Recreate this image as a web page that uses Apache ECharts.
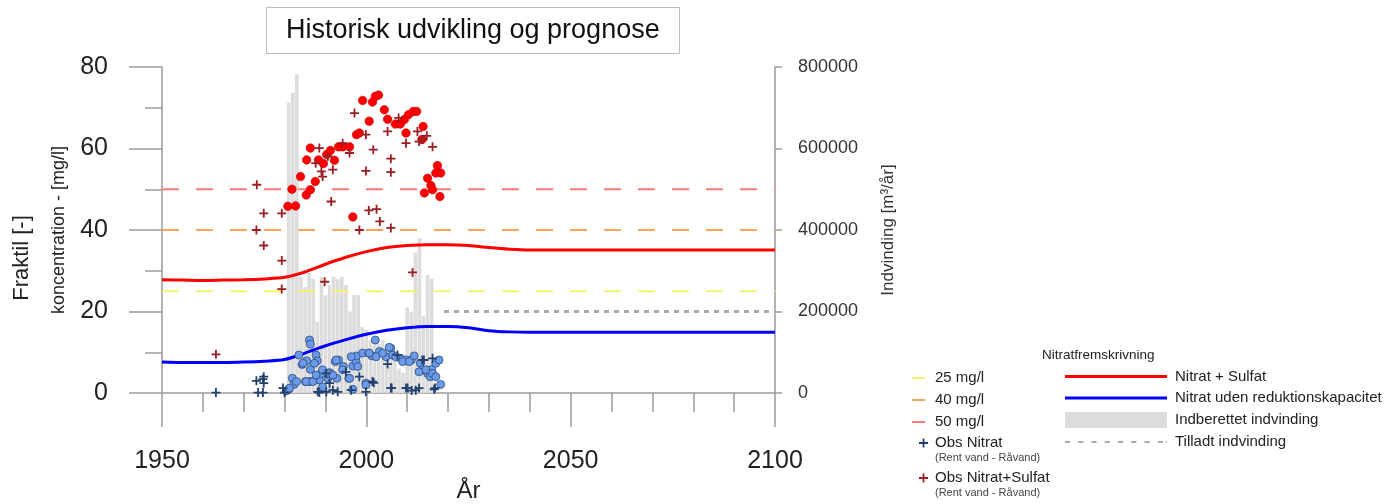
<!DOCTYPE html>
<html>
<head>
<meta charset="utf-8">
<title>Historisk udvikling og prognose</title>
<script src="https://cdn.jsdelivr.net/npm/echarts@6/dist/echarts.min.js"></script>
<style>
  html, body { margin: 0; padding: 0; background: #fff; }
  #chart { width: 1393px; height: 504px; }
</style>
</head>
<body>
<div id="chart"></div>
<script>
// Indberettet indvinding (m3/år)
const barYears = [1981, 1982, 1983, 1984, 1985, 1986, 1987, 1988, 1989, 1990, 1991, 1992,
  1993, 1994, 1995, 1996, 1997, 1998, 1999, 2000, 2001, 2002, 2003, 2004, 2005, 2006,
  2007, 2008, 2009, 2010, 2011, 2012, 2013, 2014, 2015, 2016];
const indvinding = [712000, 737000, 782000, 285000, 260000, 295000, 280000, 175000, 285000,
  240000, 265000, 285000, 280000, 285000, 265000, 200000, 240000, 240000, 162000, 155000,
  130000, 125000, 120000, 130000, 110000, 95000, 80000, 60000, 50000, 210000, 200000,
  345000, 380000, 190000, 290000, 280000];

// Tilladt indvinding
const tilladtYears = [2019, 2100];
const tilladt = [200000, 200000];

// Nitratfremskrivning (mg/l)
const projYears = [1950, 1955, 1960, 1965, 1970, 1975, 1980, 1985, 1990, 1995, 2000, 2005,
  2010, 2015, 2020, 2025, 2030, 2035, 2040, 2050, 2060, 2070, 2080, 2090, 2100];
const nitratSulfat = [27.8, 27.7, 27.6, 27.7, 27.8, 28.0, 28.4, 29.7, 31.6, 33.3, 34.7, 35.7,
  36.2, 36.4, 36.4, 36.2, 35.7, 35.3, 35.1, 35.1, 35.1, 35.1, 35.1, 35.1, 35.1];
const nitratUden = [7.6, 7.5, 7.5, 7.5, 7.6, 7.8, 8.2, 9.8, 11.6, 13.1, 14.4, 15.4,
  16.0, 16.3, 16.3, 16.0, 15.3, 15.0, 14.9, 14.9, 14.9, 14.9, 14.9, 14.9, 14.9];

// Grænseværdier
const limitYears = [1950, 2100];
const limits = [25, 40, 50];
const limitNames = ['25 mg/l', '40 mg/l', '50 mg/l'];
const limitColors = ['#f6f36a', '#ffa25a', '#ff7a7a'];

// Observationer [år, mg/l]
const obsSulfatDots = [[1980.8, 45.8], [1982.7, 45.9], [1981.8, 50.0], [1983.9, 53.1], [1985.3, 48.6],
  [1986.3, 49.9], [1985.4, 57.2], [1986.3, 60.1], [1987.5, 51.9], [1988.3, 57.2], [1989.5, 56.3],
  [1990.3, 58.5], [1991.2, 59.5], [1992.2, 57.1], [1993.2, 60.4], [1994.2, 60.4], [1995.9, 60.4],
  [1997.6, 63.4], [1998.3, 63.8], [1996.7, 43.2], [2000.7, 66.7], [1999.1, 71.8], [2001.5, 71.4],
  [2002.2, 72.8], [2003.0, 73.1], [2004.4, 69.5], [2005.2, 67.2], [2007.1, 66.0], [2008.3, 66.0],
  [2009.3, 67.1], [2010.3, 68.3], [2011.5, 69.1], [2012.3, 69.1], [2009.7, 63.8], [2013.9, 65.4],
  [2013.6, 62.2], [2015.0, 52.7], [2015.8, 50.9], [2016.2, 49.9], [2014.2, 49.1], [2017.0, 54.0],
  [2017.4, 55.8], [2018.2, 54.0], [2018.0, 48.2]];
const obsSulfatPlus = [[1973.2, 51.1], [1973.1, 40.0], [1974.9, 44.1], [1974.9, 36.2], [1979.3, 44.1],
  [1979.3, 32.5], [1979.3, 25.5], [1963.2, 9.5], [1989.8, 27.3], [1988.5, 60.1], [1987.6, 56.4],
  [1989.0, 54.4], [1989.3, 53.1], [1990.6, 58.1], [1991.8, 54.8], [1991.4, 47.0], [1994.2, 61.3],
  [1995.9, 58.9], [1997.1, 68.7], [1998.3, 40.0], [1999.9, 63.4], [1999.9, 54.5], [2000.6, 44.8],
  [2002.5, 45.1], [2001.7, 59.7], [2003.3, 42.1], [2005.2, 64.2], [2006.0, 57.5], [2006.0, 54.2],
  [2006.0, 40.5], [2007.9, 67.5], [2009.7, 61.3], [2012.5, 64.2], [2012.9, 61.7], [2011.3, 29.6],
  [2013.7, 62.2], [2014.8, 63.1], [2016.2, 60.4]];
const obsNitratDots = [[1986.1, 13.0], [1986.3, 12.0], [1983.5, 9.3], [1984.3, 7.0], [1985.4, 7.9],
  [1987.7, 9.3], [1988.0, 7.9], [1986.3, 5.8], [1981.9, 3.6], [1982.3, 2.1], [1981.0, 0.9],
  [1980.4, 0.5], [1985.1, 2.8], [1986.1, 2.8], [1987.1, 3.0], [1988.5, 3.2], [1989.0, 4.8],
  [1989.3, 1.5], [1991.0, 5.0], [1990.6, 3.6], [1992.4, 7.7], [1993.2, 8.1], [1992.8, 3.6],
  [1994.4, 6.5], [1995.7, 3.6], [1996.7, 0.9], [1996.7, 6.6], [1997.5, 7.7], [1997.6, 9.1],
  [1999.1, 9.8], [1999.9, 2.4], [2000.6, 9.8], [2001.4, 9.1], [2002.2, 13.0], [2003.2, 10.2],
  [2004.8, 8.9], [2006.0, 11.0], [2006.4, 9.3], [2008.4, 8.5], [2009.7, 8.1], [2011.0, 8.1],
  [2011.7, 9.1], [2013.2, 7.3], [2013.7, 5.7], [2015.0, 4.8], [2016.0, 5.8], [2017.0, 7.3],
  [2017.8, 8.1], [2018.2, 2.1], [2015.6, 4.0], [1984.5, 7.3], [1987.3, 7.3], [1989.3, 5.7],
  [1992.6, 8.1], [1994.2, 5.7], [1996.3, 8.9], [1997.9, 6.5], [2000.7, 9.8], [2002.4, 8.9],
  [2004.0, 9.8], [2005.6, 11.2], [2007.2, 8.9], [2008.9, 7.7], [2010.5, 7.7], [2012.9, 5.2],
  [2014.6, 5.7], [2016.2, 4.8], [2017.0, 4.0], [1982.9, 2.8], [1985.3, 2.8], [1986.9, 2.8],
  [1987.7, 4.4], [1990.6, 4.8], [1991.8, 4.4], [1995.9, 3.6], [1999.9, 2.0], [1981.2, 1.2]];
const obsNitratPlus = [[1963.2, 0.1], [1973.1, 3.0], [1974.9, 4.0], [1974.9, 2.4], [1973.5, 0.1],
  [1974.7, 0.1], [1979.6, 1.2], [1980.0, 0.1], [1988.5, 0.1], [1990.2, 0.3], [1991.8, 0.7],
  [1993.0, 0.3], [1996.3, 0.7], [1999.9, 0.3], [2001.8, 2.5], [2005.2, 7.1], [2006.0, 1.2],
  [2009.7, 1.2], [2011.1, 0.6], [2012.1, 0.7], [2012.9, 1.2], [2016.8, 1.2], [2013.7, 8.1],
  [2016.2, 8.5], [1974.7, 3.4], [1988.1, 0.3], [2001.5, 2.8], [2006.2, 1.2], [2010.1, 1.2],
  [2016.6, 0.9], [1998.3, 4.0], [2007.6, 9.3], [2014.1, 8.1], [1990.2, 4.8], [1995.0, 5.2],
  [1991.0, 2.4]];

const PLUS = 'path://M4,0H6V4H10V6H6V10H4V6H0V4H4Z';
const FONT = '"Liberation Sans", Arial, sans-serif';

// legend icons: plain strokes instead of the default line+symbol
const ICON_SHORT = 'path://M0,0H13V2H0Z';
const ICON_LONG = 'path://M0,0H100V3H0Z';
let dashPath = 'path://';
for (let x = 0; x < 100; x += 13) dashPath += `M${x},0H${x + 5}V2H${x}Z`;
const ICON_DASH = dashPath + 'M99,0H100V2H99Z';

const zip = (xs, ys) => xs.map((x, i) => [x, ys[i]]);
const plain = (value) => String(value);

const chart = echarts.init(document.getElementById('chart'));

const limitSeries = limits.map((value, i) => ({
  name: limitNames[i],
  type: 'line',
  data: limitYears.map((y) => [y, value]),
  symbol: 'none',
  z: 3,
  lineStyle: { color: limitColors[i], width: 2, type: [17, 17] },
  itemStyle: { color: limitColors[i] },
}));

chart.setOption({
  animation: false,
  textStyle: { fontFamily: FONT },
  title: [
    {
      text: 'Historisk udvikling og prognose',
      left: 266, top: 7,
      padding: [9, 20],
      borderColor: '#bbb', borderWidth: 1,
      textStyle: { fontSize: 27, fontWeight: 'normal', color: '#111', lineHeight: 29 },
    },
    { text: 'Nitratfremskrivning', left: 1042, top: 348, padding: 0,
      textStyle: { fontSize: 13.5, fontWeight: 'normal', color: '#222' } },
    { text: '(Rent vand - Råvand)', left: 935, top: 452, padding: 0,
      textStyle: { fontSize: 11, fontWeight: 'normal', color: '#444' } },
    { text: '(Rent vand - Råvand)', left: 935, top: 487, padding: 0,
      textStyle: { fontSize: 11, fontWeight: 'normal', color: '#444' } },
  ],
  graphic: [{
    type: 'text', x: 22, y: 258, rotation: Math.PI / 2,
    style: { text: 'Fraktil [-]', font: `22px ${FONT}`, fill: '#222', align: 'center', verticalAlign: 'middle' },
  }],
  legend: [
    {
      data: limitNames.map((name) => ({ name, icon: ICON_SHORT })),
      left: 912, top: 370.5, orient: 'vertical', padding: 0,
      itemWidth: 13, itemHeight: 14, itemGap: 7, selectedMode: false,
      textStyle: { fontSize: 15, color: '#222', padding: [0, 0, 0, 5] },
    },
    {
      data: ['Obs Nitrat', 'Obs Nitrat+Sulfat'], left: 919, top: 435.5, orient: 'vertical', padding: 0,
      itemWidth: 9, itemHeight: 9, itemGap: 20, selectedMode: false,
      textStyle: { fontSize: 15, color: '#222', padding: [0, 0, 0, 2] },
    },
    {
      data: [
        { name: 'Nitrat + Sulfat', icon: ICON_LONG },
        { name: 'Nitrat uden reduktionskapacitet', icon: ICON_LONG },
        { name: 'Indberettet indvinding', icon: 'rect' },
        { name: 'Tilladt indvinding', icon: ICON_DASH },
      ],
      left: 1065, top: 369, orient: 'vertical', padding: 0,
      itemWidth: 102, itemHeight: 16, itemGap: 6.5, selectedMode: false,
      textStyle: { fontSize: 15, color: '#222', padding: [0, 0, 0, 3] },
    },
  ],
  grid: { left: 162, right: 618, top: 67, bottom: 111, outerBoundsMode: 'none' },
  xAxis: {
    type: 'value', min: 1950, max: 2100, interval: 50,
    name: 'År', nameLocation: 'middle', nameGap: 86,
    nameTextStyle: { fontSize: 24, color: '#222' },
    axisLine: { lineStyle: { color: '#9a9a9a', width: 1.5 } },
    axisTick: { length: 34, lineStyle: { color: '#9a9a9a', width: 1.5 } },
    minorTick: { show: true, splitNumber: 5, length: 19, lineStyle: { color: '#9a9a9a', width: 1.5 } },
    axisLabel: { fontSize: 25, color: '#222', margin: 56, formatter: plain },
    splitLine: { show: false },
  },
  yAxis: [
    {
      type: 'value', min: 0, max: 80, interval: 20,
      name: 'koncentration - [mg/l]', nameLocation: 'middle', nameGap: 94,
      nameTextStyle: { fontSize: 18, color: '#222' },
      axisLine: { show: true, lineStyle: { color: '#9a9a9a', width: 1.5 } },
      axisTick: { show: true, length: 33, lineStyle: { color: '#9a9a9a', width: 1.5 } },
      minorTick: { show: true, splitNumber: 2, length: 17, lineStyle: { color: '#9a9a9a', width: 1.5 } },
      axisLabel: { fontSize: 25, color: '#222', margin: 54, formatter: plain },
      splitLine: { show: false },
    },
    {
      type: 'value', min: 0, max: 800000, interval: 200000, position: 'right',
      name: 'Indvinding [m³/år]', nameLocation: 'middle', nameGap: 105,
      nameTextStyle: { fontSize: 17, color: '#333' },
      axisLine: { show: true, lineStyle: { color: '#9a9a9a', width: 1.5 } },
      axisTick: { show: true, length: 7, lineStyle: { color: '#9a9a9a', width: 1.5 } },
      axisLabel: { fontSize: 18, color: '#333', margin: 23, formatter: plain },
      splitLine: { show: false },
    },
  ],
  series: [
    {
      name: 'Indberettet indvinding', type: 'bar', yAxisIndex: 1,
      data: zip(barYears, indvinding), barWidth: 3.6, z: 1,
      itemStyle: { color: '#dcdcdc' },
    },
    ...limitSeries,
    {
      name: 'Tilladt indvinding', type: 'line', yAxisIndex: 1,
      data: zip(tilladtYears, tilladt), symbol: 'none', z: 3,
      lineStyle: { color: '#aaaaaa', width: 3, type: [5, 5] },
      itemStyle: { color: '#aaaaaa' },
    },
    {
      name: 'Nitrat + Sulfat', type: 'line', data: zip(projYears, nitratSulfat),
      smooth: 0.3, symbol: 'none', z: 4,
      lineStyle: { color: '#ff0000', width: 3 }, itemStyle: { color: '#ff0000' },
    },
    {
      name: 'Nitrat uden reduktionskapacitet', type: 'line', data: zip(projYears, nitratUden),
      smooth: 0.3, symbol: 'none', z: 4,
      lineStyle: { color: '#0000ff', width: 3 }, itemStyle: { color: '#0000ff' },
    },
    {
      name: 'Nitrat+Sulfat målinger', type: 'scatter', data: obsSulfatDots,
      symbol: 'circle', symbolSize: 8.5, z: 5,
      itemStyle: { color: '#ff0000', borderColor: '#c00000', borderWidth: 0.6, opacity: 1 },
    },
    {
      name: 'Obs Nitrat+Sulfat', type: 'scatter', data: obsSulfatPlus,
      symbol: PLUS, symbolSize: 9, z: 6,
      itemStyle: { color: '#9b1c22', opacity: 1 },
    },
    {
      name: 'Nitrat målinger', type: 'scatter', data: obsNitratDots,
      symbol: 'circle', symbolSize: 8, z: 5,
      itemStyle: { color: '#6b9ae8', borderColor: '#2b4a7e', borderWidth: 0.8, opacity: 1 },
    },
    {
      name: 'Obs Nitrat', type: 'scatter', data: obsNitratPlus,
      symbol: PLUS, symbolSize: 9, z: 6,
      itemStyle: { color: '#22406e', opacity: 1 },
    },
  ],
});
</script>
</body>
</html>
